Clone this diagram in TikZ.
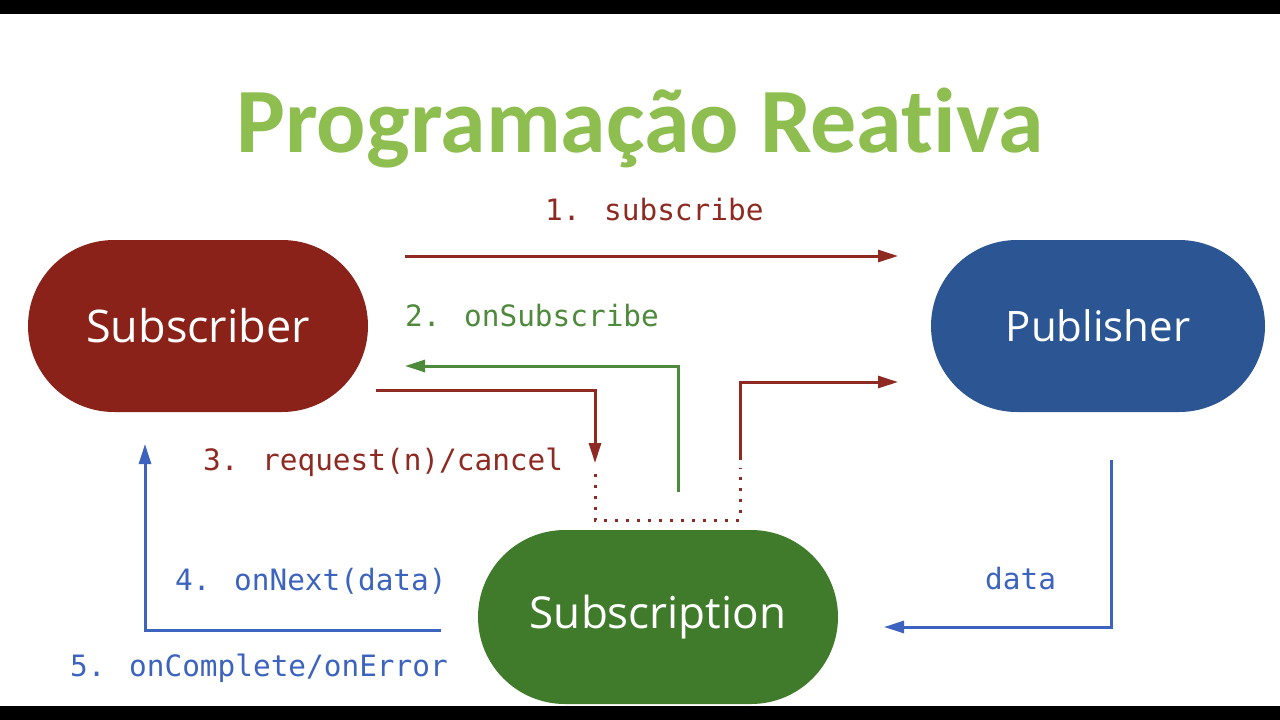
\documentclass[tikz,border=0pt]{standalone}
\usepackage{fontspec}
\setmainfont[Ligatures=NoCommon]{Carlito}
\newfontfamily\monof{DejaVu Sans Mono}
\newfontfamily\nodef{Open Sans}
\usetikzlibrary{arrows.meta,shapes.misc}
\definecolor{titlegreen}{HTML}{8DBE4F}
\definecolor{subred}{HTML}{8B2219}
\definecolor{pubblue}{HTML}{2B5593}
\definecolor{subgreen}{HTML}{3F7B2A}
\definecolor{arrred}{HTML}{8E2A22}
\definecolor{arrgreen}{HTML}{4E8A3C}
\definecolor{arrblue}{HTML}{3C64BE}
\tikzset{
  x=1pt,y=-1pt,
  pill/.style={rounded rectangle, draw=none, text=white, inner sep=0pt},
  conn/.style={line width=3pt, -{Triangle[length=20pt,width=12pt]}},
  dots/.style={line width=3pt, arrred, dash pattern=on 3pt off 8pt},
  lbl/.style={font=\monof\fontsize{29.4}{31}\selectfont, inner sep=0pt, anchor=west}
}
\begin{document}
\begin{tikzpicture}
\useasboundingbox (0,0) rectangle (1280,720);
\fill[white] (0,0) rectangle (1280,720);
\fill[black] (0,0) rectangle (1280,14);
\fill[black] (0,706) rectangle (1280,720);

\node[font=\bfseries\fontsize{92}{96}\selectfont, text=titlegreen] (title) at (640,128) {Programação Reativa};

\node[pill, fill=subred, minimum width=340pt, minimum height=172pt, font=\nodef\fontsize{45}{48}\selectfont] (sub) at (198,326) {Subscriber};
\node[pill, fill=pubblue, minimum width=334pt, minimum height=172pt, font=\nodef\fontsize{42}{46}\selectfont] (pub) at (1098,326) {Publisher};
\node[pill, fill=subgreen, minimum width=360pt, minimum height=174pt, font=\nodef\fontsize{44}{48}\selectfont] (subs) at (658,617) {Subscription};

% coordinates
\coordinate (a1s) at (405,256);
\coordinate (a1e) at (898,256);
\coordinate (g0) at (678,492);
\coordinate (g1) at (678,366);
\coordinate (g2) at (405,366);
\coordinate (r0) at (376,390);
\coordinate (r1) at (595,390);
\coordinate (r2) at (595,463);
\coordinate (d0) at (595,474);
\coordinate (d1) at (595,520);
\coordinate (d2) at (740,520);
\coordinate (d3) at (740,468);
\coordinate (q0) at (740,460);
\coordinate (q1) at (740,382);
\coordinate (q2) at (898,382);
\coordinate (b0) at (441,630);
\coordinate (b1) at (145,630);
\coordinate (b2) at (145,444);
\coordinate (c0) at (1111,460);
\coordinate (c1) at (1111,627);
\coordinate (c2) at (884,627);

\draw[conn, arrred] (a1s) -- (a1e);
\draw[conn, arrgreen] (g0) -- (g1) -- (g2);
\draw[conn, arrred] (r0) -- (r1) -- (r2);
\draw[dots] (d0) -- (d1) -- (d2) -- (d3);
\draw[conn, arrred] (q0) -- (q1) -- (q2);
\draw[conn, arrblue] (b0) -- (b1) -- (b2);
\draw[conn, arrblue] (c0) -- (c1) -- (c2);

\node[lbl, text=arrred] (l1) at (545,210) {1. subscribe};
\node[lbl, text=arrgreen] (l2) at (405,316) {2. onSubscribe};
\node[lbl, text=arrred] (l3) at (203,462) {3. request(n)/cancel};
\node[lbl, text=arrblue] (l4) at (175,581) {4. onNext(data)};
\node[lbl, text=arrblue] (l5) at (70,668) {5. onComplete/onError};
\node[lbl, text=arrblue] (l6) at (985,579) {data};
\end{tikzpicture}
\end{document}
